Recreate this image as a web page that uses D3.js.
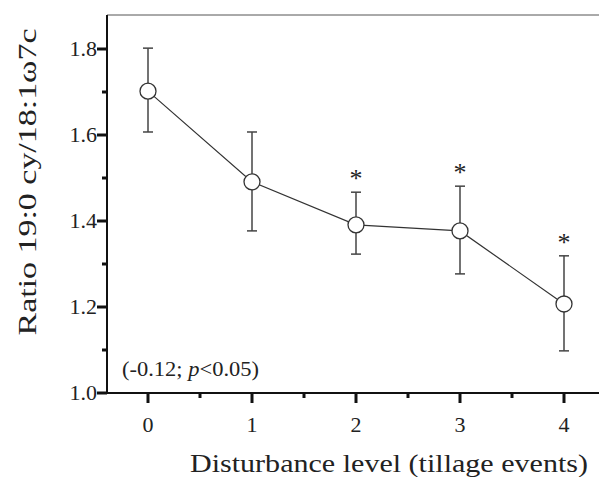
<!DOCTYPE html>
<html>
<head>
<meta charset="utf-8" />
<title>Ratio 19:0 cy/18:1w7c vs disturbance level</title>
<script src="https://cdnjs.cloudflare.com/ajax/libs/d3/7.8.5/d3.min.js"></script>
<style>
	body { margin: 0; background: #fff; }
	svg text { font-family: "Liberation Serif", "DejaVu Serif", serif; fill: #222; }
</style>
</head>
<body>
<svg id="chart" width="599" height="477"></svg>
<script>
// data
const levels = [0, 1, 2, 3, 4];
const means = [1.702, 1.491, 1.391, 1.377, 1.207];
const upper = [1.802, 1.607, 1.467, 1.481, 1.319];
const lower = [1.607, 1.377, 1.323, 1.277, 1.098];
const signif = [false, false, true, true, true];
const yTicks = [1.0, 1.2, 1.4, 1.6, 1.8];
const yMinor = [1.1, 1.3, 1.5, 1.7];
const xMinor = [0.5, 1.5, 2.5, 3.5];

const svg = d3.select("#chart");
const plotLeft = 107, plotTop = 15, plotBottom = 393, plotRight = 599;

const x = d3.scaleLinear().domain([0, 4]).range([148, 564]);
const y = d3.scaleLinear().domain([1.0, 1.8]).range([plotBottom, 49]);

// frame top line
svg.append("line")
	.attr("x1", plotLeft).attr("x2", plotRight)
	.attr("y1", plotTop).attr("y2", plotTop)
	.attr("stroke", "#555").attr("stroke-width", 1);

// y axis
const yAxis = svg.append("g").attr("transform", `translate(${plotLeft},0)`);
yAxis.append("line")
	.attr("x1", 0).attr("x2", 0).attr("y1", plotTop).attr("y2", plotBottom)
	.attr("stroke", "#111").attr("stroke-width", 2);
yAxis.selectAll("line.major").data(yTicks).enter().append("line")
	.attr("class", "major")
	.attr("x1", -10).attr("x2", 0)
	.attr("y1", d => y(d)).attr("y2", d => y(d))
	.attr("stroke", "#111").attr("stroke-width", 3);
yAxis.selectAll("line.minor").data(yMinor).enter().append("line")
	.attr("class", "minor")
	.attr("x1", -5).attr("x2", 0)
	.attr("y1", d => y(d)).attr("y2", d => y(d))
	.attr("stroke", "#111").attr("stroke-width", 3);
yAxis.selectAll("text").data(yTicks).enter().append("text")
	.attr("x", -10).attr("y", d => y(d) + 7)
	.attr("text-anchor", "end")
	.attr("font-size", 22)
	.text(d => d.toFixed(1));

// x axis
const xAxis = svg.append("g").attr("transform", `translate(0,${plotBottom})`);
xAxis.append("line")
	.attr("x1", plotLeft).attr("x2", plotRight).attr("y1", 0).attr("y2", 0)
	.attr("stroke", "#111").attr("stroke-width", 2);
xAxis.selectAll("line.major").data(levels).enter().append("line")
	.attr("class", "major")
	.attr("x1", d => x(d)).attr("x2", d => x(d))
	.attr("y1", 0).attr("y2", 10)
	.attr("stroke", "#111").attr("stroke-width", 3);
xAxis.selectAll("line.minor").data(xMinor).enter().append("line")
	.attr("class", "minor")
	.attr("x1", d => x(d)).attr("x2", d => x(d))
	.attr("y1", 0).attr("y2", 5)
	.attr("stroke", "#111").attr("stroke-width", 3);
xAxis.selectAll("text").data(levels).enter().append("text")
	.attr("x", d => x(d)).attr("y", 39)
	.attr("text-anchor", "middle")
	.attr("font-size", 22)
	.text(d => d);

// axis titles
svg.append("text")
	.attr("transform", "translate(36,182) rotate(-90)")
	.attr("text-anchor", "middle")
	.attr("font-size", 25)
	.attr("textLength", 307)
	.attr("lengthAdjust", "spacingAndGlyphs")
	.text("Ratio 19:0 cy/18:1\u03C97c");
svg.append("text")
	.attr("x", 389).attr("y", 472)
	.attr("text-anchor", "middle")
	.attr("font-size", 26)
	.attr("textLength", 398)
	.attr("lengthAdjust", "spacingAndGlyphs")
	.text("Disturbance level (tillage events)");

// annotation
const note = svg.append("text")
	.attr("x", 122).attr("y", 376)
	.attr("font-size", 20)
	.attr("textLength", 137)
	.attr("lengthAdjust", "spacingAndGlyphs");
note.append("tspan").text("(-0.12; ");
note.append("tspan").attr("font-style", "italic").text("p");
note.append("tspan").text("<0.05)");

// connecting line
const line = d3.line().x((d, i) => x(levels[i])).y(d => y(d));
svg.append("path")
	.datum(means)
	.attr("d", line)
	.attr("fill", "none")
	.attr("stroke", "#333").attr("stroke-width", 1.2);

// error bars
const bars = svg.append("g").attr("stroke", "#444").attr("stroke-width", 1.5);
levels.forEach((lv, i) => {
	bars.append("line")
		.attr("x1", x(lv)).attr("x2", x(lv))
		.attr("y1", y(upper[i])).attr("y2", y(lower[i]));
	[upper[i], lower[i]].forEach(v => {
		bars.append("line")
			.attr("x1", x(lv) - 5).attr("x2", x(lv) + 5)
			.attr("y1", y(v)).attr("y2", y(v));
	});
});

// points
svg.selectAll("circle.pt").data(means).enter().append("circle")
	.attr("class", "pt")
	.attr("cx", (d, i) => x(levels[i])).attr("cy", d => y(d))
	.attr("r", 8)
	.attr("fill", "#fff").attr("stroke", "#333").attr("stroke-width", 1.3);

// significance stars
svg.selectAll("text.star").data(levels.filter((d, i) => signif[i])).enter().append("text")
	.attr("class", "star")
	.attr("x", d => x(d)).attr("y", d => y(upper[d]) - 5)
	.attr("text-anchor", "middle")
	.attr("font-size", 26)
	.text("*");
</script>
</body>
</html>
